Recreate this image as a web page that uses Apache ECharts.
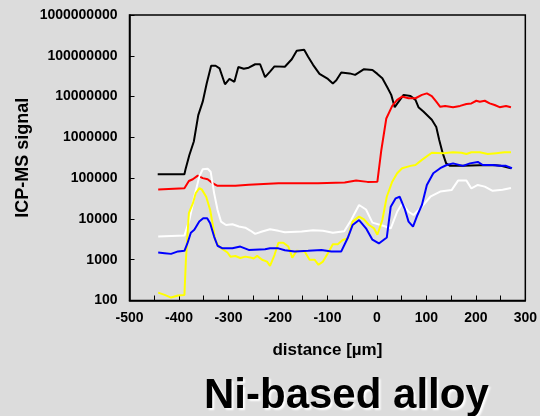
<!DOCTYPE html>
<html>
<head>
<meta charset="utf-8">
<script src="https://cdn.jsdelivr.net/npm/echarts@6/dist/echarts.min.js"></script>
<style>
  html, body { margin: 0; padding: 0; background: #dcdcdc; }
  #chart { width: 540px; height: 416px; }
</style>
</head>
<body>
<div id="chart"></div>
<script>
// Depth profiles (distance in µm, ICP-MS signal in counts)
const blackX = [-443,-389,-387,-379,-370,-361,-352,-344,-335,-326,-318,-307,-298,-288,-280,-269,-259,-246,-236,-226,-216,-207,-186,-172,-162,-147,-139,-129,-116,-99,-89,-82,-72,-55,-44,-26,-9,1,11,21,29,36,44,54,68,78,84,94,111,120,126,133,140,148,174,208,234,251,271];
const blackY = [1.25e5,1.25e5,1.6e5,3.7e5,7.9e5,3.5e6,7.5e6,2.1e7,5.7e7,5.7e7,4.9e7,2.0e7,2.7e7,2.3e7,5.3e7,4.8e7,5.1e7,6.2e7,6.2e7,3.0e7,4.1e7,5.5e7,5.4e7,8.2e7,1.33e8,1.4e8,9.5e7,6.0e7,3.6e7,2.7e7,2.1e7,2.5e7,3.9e7,3.7e7,3.4e7,4.7e7,4.5e7,3.6e7,2.8e7,1.7e7,1.1e7,5.5e6,7.5e6,1.1e7,1.03e7,8.3e6,5.5e6,4.3e6,2.7e6,1.8e6,8.6e5,4.1e5,2.3e5,2.0e5,2.0e5,2.07e5,2.1e5,2.0e5,1.75e5];

const redX = [-442,-389,-380,-372,-362,-352,-342,-332,-322,-286,-259,-199,-119,-65,-42,-19,1,9,19,31,41,51,64,78,82,91,101,111,120,128,138,154,168,181,191,201,208,218,228,238,248,261,271];
const redY = [5.3e4,5.65e4,8.5e4,9.4e4,1.15e5,1.0e5,9.4e4,7.5e4,6.5e4,6.5e4,6.9e4,7.5e4,7.5e4,7.8e4,8.7e4,8.1e4,8.2e4,4.9e5,2.9e6,5.9e6,8.3e6,1.0e7,9.1e6,9.1e6,8.3e6,1.1e7,1.2e7,1.03e7,7.5e6,5.6e6,5.9e6,5.5e6,5.9e6,6.6e6,6.8e6,7.9e6,7.5e6,7.9e6,6.8e6,6.2e6,5.5e6,5.9e6,5.5e6];

const whiteX = [-442,-389,-379,-369,-359,-352,-342,-336,-329,-322,-315,-305,-292,-279,-266,-256,-246,-232,-216,-199,-186,-152,-129,-109,-89,-66,-52,-36,-22,-9,14,28,41,51,64,74,91,108,128,151,164,181,191,204,218,234,254,271];
const whiteY = [3.7e3,3.9e3,9.4e3,3.5e4,1.09e5,1.65e5,1.7e5,1.44e5,4.3e4,1.66e4,8.6e3,7.1e3,7.4e3,6.5e3,6.1e3,5.2e3,4.3e3,4.9e3,5.6e3,5.1e3,4.7e3,4.9e3,5.3e3,5.1e3,4.6e3,5.0e3,9.4e3,2.2e4,1.7e4,8.1e3,6.7e3,5.9e3,1.5e4,2.4e4,1.5e4,1.25e4,2.0e4,3.5e4,4.7e4,5.1e4,8.7e4,8.7e4,5.6e4,6.8e4,6.2e4,4.9e4,5.2e4,5.7e4];

const yellowX = [-442,-429,-416,-402,-389,-386,-380,-372,-366,-359,-354,-345,-337,-331,-327,-319,-302,-296,-286,-276,-266,-256,-249,-242,-232,-222,-216,-207,-199,-189,-179,-171,-162,-146,-136,-126,-118,-109,-99,-89,-79,-69,-59,-49,-36,-26,-16,-6,1,11,20,31,41,51,68,78,91,111,134,154,171,181,191,208,224,241,258,271];
const yellowY = [156,137,118,132,137,1000,1.38e4,2.4e4,4.3e4,5.65e4,5.3e4,3.5e4,1.66e4,6.5e3,3.05e3,2.1e3,1.5e3,1.19e3,1.23e3,1.1e3,1.19e3,1.14e3,1.07e3,1.24e3,1.0e3,900,705,1.3e3,2.6e3,2.6e3,2.1e3,1.12e3,1.67e3,1.6e3,1.0e3,1.0e3,750,900,1.44e3,2.4e3,2.4e3,3.05e3,3.3e3,8.6e3,1.14e4,9.8e3,7.1e3,5.9e3,4.1e3,9.4e3,3.5e4,8.2e4,1.32e5,1.75e5,2.0e5,2.1e5,2.8e5,4.2e5,4.1e5,4.3e5,4.2e5,3.9e5,4.3e5,4.3e5,3.9e5,4.1e5,4.3e5,4.3e5];

const blueX = [-442,-429,-416,-402,-389,-383,-376,-369,-359,-351,-343,-337,-329,-322,-312,-292,-276,-259,-226,-216,-199,-186,-166,-139,-112,-92,-72,-59,-49,-36,-22,-9,4,20,28,38,46,56,64,73,82,91,101,114,128,141,154,174,188,204,214,234,248,261,273];
const blueY = [1.5e3,1.45e3,1.39e3,1.6e3,1.65e3,2.5e3,4.6e3,5.4e3,8.6e3,1.04e4,1.04e4,7.8e3,3.7e3,2.2e3,1.9e3,1.9e3,2.1e3,1.74e3,1.8e3,1.9e3,1.9e3,1.7e3,1.6e3,1.65e3,1.74e3,1.6e3,1.6e3,3.4e3,7.1e3,9.4e3,5.9e3,3.1e3,2.5e3,3.5e3,2.0e4,3.2e4,3.5e4,1.8e4,8.6e3,6.5e3,1.25e4,2.2e4,6.8e4,1.32e5,1.75e5,2.1e5,2.3e5,2.0e5,2.3e5,2.5e5,2.1e5,2.1e5,2.0e5,2.0e5,1.75e5];

const xTicks = { min: -500, max: 300, step: 100 };
const yTicks = { min: 100, max: 1e9 };

const titleText = 'Ni-based alloy';
const xName = 'distance [µm]';
const yName = 'ICP-MS signal';

const FONT = '"Liberation Sans", Arial, Helvetica, sans-serif';

function pairs(xs, ys) { return xs.map((x, i) => [x, ys[i]]); }

function lineSeries(xs, ys, color) {
  return {
    type: 'line',
    data: pairs(xs, ys),
    showSymbol: false,
    symbol: 'none',
    smooth: false,
    lineStyle: { color: color, width: 2 },
    itemStyle: { color: color },
    z: 3
  };
}

const chart = echarts.init(document.getElementById('chart'), null, { renderer: 'canvas' });

chart.setOption({
  animation: false,
  backgroundColor: '#dcdcdc',
  textStyle: { fontFamily: FONT },
  grid: {
    left: 129.5, right: 9, top: 15, bottom: 115.5,
    show: true, borderColor: '#000', borderWidth: 1.5, backgroundColor: 'transparent'
  },
  xAxis: {
    type: 'value',
    min: xTicks.min, max: xTicks.max, interval: xTicks.step,
    name: xName,
    nameLocation: 'middle',
    nameGap: 41,
    nameMoveOverlap: false,
    nameTextStyle: { fontFamily: FONT, fontWeight: 'bold', fontSize: 17, color: '#000' },
    axisLine: { show: true, onZero: false, lineStyle: { color: '#000', width: 1.5 } },
    axisTick: { show: true, inside: true, length: 5, lineStyle: { color: '#000', width: 1 } },
    minorTick: { show: true, splitNumber: 2, length: 5, lineStyle: { color: '#000', width: 1 } },
    splitLine: { show: false },
    axisLabel: {
      show: true, margin: 11, color: '#000', fontWeight: 'bold', fontSize: 14, fontFamily: FONT,
      showMinLabel: true, showMaxLabel: true
    }
  },
  yAxis: {
    type: 'log',
    logBase: 10,
    min: yTicks.min, max: yTicks.max,
    name: yName,
    nameLocation: 'middle',
    nameGap: 97,
    nameMoveOverlap: false,
    nameRotate: 90,
    nameTextStyle: { fontFamily: FONT, fontWeight: 'bold', fontSize: 18, color: '#000' },
    axisLine: { show: true, onZero: false, lineStyle: { color: '#000', width: 1.5 } },
    axisTick: { show: true, inside: true, length: 5, lineStyle: { color: '#000', width: 1 } },
    minorTick: { show: false },
    splitLine: { show: false },
    axisLabel: {
      margin: 12, color: '#000', fontWeight: 'bold', fontSize: 14, fontFamily: FONT,
      formatter: function (v) { return String(Math.round(v)); }
    }
  },
  series: [
    lineSeries(blackX, blackY, '#000000'),
    lineSeries(redX, redY, '#ff0000'),
    lineSeries(whiteX, whiteY, '#ffffff'),
    lineSeries(yellowX, yellowY, '#ffff00'),
    lineSeries(blueX, blueY, '#0000ff')
  ],
  graphic: [{
    type: 'text',
    left: 204,
    top: 375,
    style: {
      text: titleText,
      fill: '#000',
      font: 'bold 42px ' + FONT,
      textShadowColor: '#ffffff',
      textShadowOffsetX: 2,
      textShadowOffsetY: 2,
      textShadowBlur: 2
    }
  }]
});
</script>
</body>
</html>
